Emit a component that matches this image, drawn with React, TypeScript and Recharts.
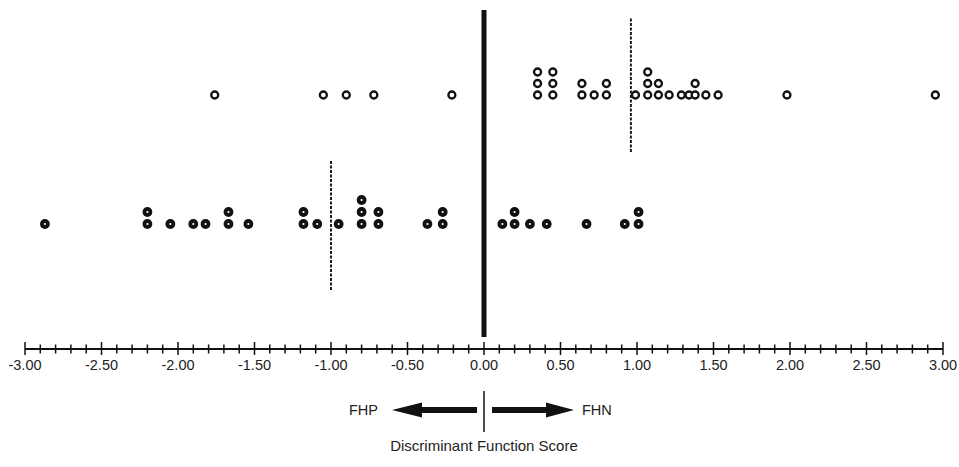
import React from "react";
import {
  ReferenceLine,
  Scatter,
  ScatterChart,
  XAxis,
  YAxis,
} from "recharts";

// discriminant function scores, one entry per case (repeats stack up)
const fhnScores = [
  -1.76, -1.05, -0.9, -0.72, -0.21,
  0.35, 0.35, 0.35, 0.45, 0.45, 0.45,
  0.64, 0.64, 0.72, 0.8, 0.8,
  0.99, 1.07, 1.07, 1.07, 1.14, 1.14, 1.21, 1.29, 1.34, 1.38, 1.38,
  1.45, 1.53, 1.98, 2.95,
];
const fhpScores = [
  -2.87, -2.2, -2.2, -2.05, -1.9, -1.82, -1.67, -1.67, -1.54,
  -1.18, -1.18, -1.09, -0.95, -0.8, -0.8, -0.8, -0.69, -0.69,
  -0.37, -0.27, -0.27, 0.12, 0.2, 0.2, 0.3, 0.41, 0.67, 0.92, 1.01, 1.01,
];
// group centroids (dashed markers)
const fhnCentroid = 0.96;
const fhpCentroid = -1.0;

const majorLabels = ["-3.00", "-2.50", "-2.00", "-1.50", "-1.00", "-0.50", "0.00", "0.50", "1.00", "1.50", "2.00", "2.50", "3.00"];

// minor ticks every 0.1
const axisTicks: number[] = [];
for (let i = -30; i <= 30; i++) axisTicks.push(i / 10);

// row layout (y is distance above the axis line, in px)
const FHN_BASE = 254;
const FHN_STEP = 11.5;
const FHP_BASE = 125;
const FHP_STEP = 12;

const FONT = "Liberation Sans, Arial, sans-serif";

function stackRow(scores: number[], base: number, step: number) {
  const seen: Record<string, number> = {};
  return scores.map((s) => {
    const k = s.toFixed(2);
    const n = seen[k] || 0;
    seen[k] = n + 1;
    return { x: s, y: base + n * step };
  });
}

const fhnData = stackRow(fhnScores, FHN_BASE, FHN_STEP);
const fhpData = stackRow(fhpScores, FHP_BASE, FHP_STEP);

const OpenDot = (p: any) => (
  <circle cx={p.cx} cy={p.cy} r={3.5} fill="#fff" stroke="#111" strokeWidth={2.3} />
);

const FilledDot = (p: any) => (
  <g>
    <circle cx={p.cx} cy={p.cy} r={4.9} fill="#111" />
    <circle cx={p.cx} cy={p.cy} r={1.1} fill="#fff" />
  </g>
);

const AxisTick = (p: any) => {
  const v: number = p.payload.value;
  const major = Math.abs(v * 2 - Math.round(v * 2)) < 1e-6;
  const idx = Math.round((v + 3) * 2);
  return (
    <g>
      <line
        x1={p.x}
        x2={p.x}
        y1={p.y - (major ? 7 : 4.5)}
        y2={p.y + (major ? 6 : 4.5)}
        stroke="#111"
        strokeWidth={1.5}
      />
      {major && (
        <text
          x={p.x}
          y={p.y + 21}
          textAnchor="middle"
          fontSize={14.5}
          fill="#222"
          fontFamily={FONT}
        >
          {majorLabels[idx]}
        </text>
      )}
    </g>
  );
};

// direction arrows and axis title under the scale
const AxisNotes = (props: any) => {
  const vb = props.viewBox;
  const cx = vb.x + vb.width / 2;
  const ay = vb.y + 61;
  return (
    <g>
      <line x1={cx} x2={cx} y1={ay - 19} y2={ay + 22} stroke="#111" strokeWidth={1.5} />
      <rect x={cx - 64} y={ay - 3} width={57} height={6} fill="#111" />
      <polygon points={`${cx - 92},${ay} ${cx - 62},${ay - 7.5} ${cx - 62},${ay + 7.5}`} fill="#111" />
      <rect x={cx + 8} y={ay - 3} width={58} height={6} fill="#111" />
      <polygon points={`${cx + 90},${ay} ${cx + 62},${ay - 7.5} ${cx + 62},${ay + 7.5}`} fill="#111" />
      <text x={cx - 106} y={ay + 5} textAnchor="end" fontSize={14.5} fill="#222" fontFamily={FONT}>
        FHP
      </text>
      <text x={cx + 98} y={ay + 5} textAnchor="start" fontSize={14.5} fill="#222" fontFamily={FONT}>
        FHN
      </text>
      <text x={cx} y={ay + 41} textAnchor="middle" fontSize={15} fill="#222" fontFamily={FONT}>
        Discriminant Function Score
      </text>
    </g>
  );
};

export default function App() {
  return (
    <div style={{ position: "absolute", left: 0, top: 0, background: "#fff" }}>
      <ScatterChart
        width={959}
        height={467}
        margin={{ top: 7, right: 16, bottom: 88, left: 25 }}
      >
        <XAxis
          type="number"
          dataKey="x"
          domain={[-3, 3]}
          ticks={axisTicks}
          interval={0}
          tickSize={0}
          tickMargin={0}
          tickLine={false}
          tick={<AxisTick />}
          axisLine={{ stroke: "#111", strokeWidth: 1.8 }}
          height={30}
          allowDataOverflow
          label={{ content: AxisNotes }}
        />
        <YAxis type="number" dataKey="y" domain={[0, 342]} hide />
        <ReferenceLine
          segment={[{ x: 0, y: 12 }, { x: 0, y: 339 }]}
          stroke="#111"
          strokeWidth={5}
        />
        <ReferenceLine
          segment={[{ x: fhnCentroid, y: 197 }, { x: fhnCentroid, y: 331 }]}
          stroke="#111"
          strokeWidth={1.9}
          strokeDasharray="3 1.5"
        />
        <ReferenceLine
          segment={[{ x: fhpCentroid, y: 59 }, { x: fhpCentroid, y: 189 }]}
          stroke="#111"
          strokeWidth={1.9}
          strokeDasharray="3 1.5"
        />
        <Scatter data={fhnData} shape={OpenDot} isAnimationActive={false} />
        <Scatter data={fhpData} shape={FilledDot} isAnimationActive={false} />
      </ScatterChart>
    </div>
  );
}
